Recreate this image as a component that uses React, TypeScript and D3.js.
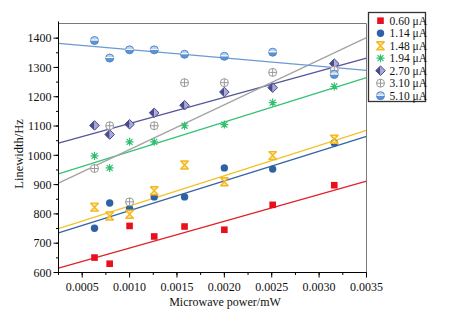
import React from "react";
import * as d3 from "d3";

const xValues = [0.00063, 0.00079, 0.001, 0.00126, 0.00158, 0.002, 0.00251, 0.00316];
const seriesNames = ["0.60 μA", "1.14 μA", "1.48 μA", "1.94 μA", "2.70 μA", "3.10 μA", "5.10 μA"];
const s060 = [651, 630, 759, 723, 757, 746, 831, 898];
const s114 = [751, 837, 818, 858, 858, 957, 953, 1042];
const s148 = [823, 793, 799, 879, 967, 910, 999, 1055];
const s194 = [998, 957, 1046, 1046, 1101, 1105, 1180, 1235];
const s270 = [1102, 1071, 1106, 1145, 1171, 1216, 1231, 1313];
const s310 = [955, 1101, 841, 1101, 1248, 1248, 1283, 1290];
const s510 = [1392, 1332, 1360, 1360, 1345, 1338, 1352, 1276];
// fitted line values at x = 0.00025 and x = 0.0035
const fitStart = [615, 735, 750, 937, 1042, 905, 1382];
const fitEnd = [912, 1065, 1085, 1265, 1332, 1402, 1290];
const xTicks = [0.0005, 0.001, 0.0015, 0.002, 0.0025, 0.003, 0.0035];
const yTicks = [600, 700, 800, 900, 1000, 1100, 1200, 1300, 1400];

const allSeries = [s060, s114, s148, s194, s270, s310, s510];
const lineColors = ["#e3202b", "#3464a6", "#f2c22a", "#35c274", "#55559a", "#a3a3a3", "#6b9ad2"];
const kinds = ["square", "circle", "hourglass", "asterisk", "diamond", "pluscircle", "halfcircle"];

function Marker({ kind, x, y }: { kind: string; x: number; y: number }) {
  const t = `translate(${x},${y})`;
  switch (kind) {
    case "square":
      return <rect x={x - 3.3} y={y - 3.3} width={6.6} height={6.6} fill="#e8101c" />;
    case "circle":
      return <circle cx={x} cy={y} r={3.7} fill="#2e63a3" />;
    case "hourglass":
      return (
        <g transform={t}>
          <path d="M-4,-4 L4,-4 L0,0 Z M-4,4 L4,4 L0,0 Z" fill="#fbe3a0" />
          <path d="M-4.2,-4 L4.2,-4 M-4.2,4 L4.2,4 M-4,-4 L4,4 M4,-4 L-4,4" stroke="#f2b81c" strokeWidth={1.4} fill="none" />
        </g>
      );
    case "asterisk":
      return (
        <g transform={t} stroke="#32c070" strokeWidth={1.2}>
          <path d="M-4,0 L4,0 M0,-4 L0,4 M-3,-3 L3,3 M3,-3 L-3,3" />
        </g>
      );
    case "diamond":
      return (
        <g transform={t}>
          <path d="M0,-4.8 L-4.8,0 L0,4.8 Z" fill="#4a4a8e" />
          <path d="M0,-4.8 L4.8,0 L0,4.8 Z" fill="#a9a8d6" />
          <path d="M0,-4.8 L4.8,0 L0,4.8 L-4.8,0 Z" fill="none" stroke="#4a4a8e" strokeWidth={1} />
        </g>
      );
    case "pluscircle":
      return (
        <g transform={t} stroke="#9a9a9a" strokeWidth={1} fill="#fff">
          <circle r={4} />
          <path d="M-4,0 L4,0 M0,-4 L0,4" />
        </g>
      );
    case "halfcircle":
      return (
        <g transform={t}>
          <path d="M-4,0 A4,4 0 0 1 4,0 Z" fill="#b9d2f0" />
          <path d="M-4,0 A4,4 0 0 0 4,0 Z" fill="#5c93d4" />
          <circle r={4} fill="none" stroke="#4f86c8" strokeWidth={1} />
          <path d="M-4,-0.5 L4,-0.5" stroke="#fff" strokeWidth={1} />
        </g>
      );
  }
  return null;
}

export default function App() {
  const W = 451, H = 331;
  const left = 58.5, right = 366.5, top = 23.5, bottom = 272.5;
  const x = d3.scaleLinear().domain([0.00025, 0.0035]).range([left, right]);
  const y = d3.scaleLinear().domain([600, 1450]).range([bottom, top]);
  const line = d3.line<[number, number]>().x((d) => x(d[0])).y((d) => y(d[1]));
  const [x0, x1] = x.domain();
  const xMinor = d3.range(0.00025, 0.0035 + 1e-9, 0.00025);
  const yMinor = d3.range(600, 1450, 50);
  const fmtX = (v: number) => v.toFixed(4);
  const font = "'Liberation Serif', 'Times New Roman', serif";

  return (
    <svg width={W} height={H} style={{ position: "absolute", left: 0, top: 0, background: "#fff" }} fontFamily={font}>
      <defs>
        <clipPath id="plot">
          <rect x={left} y={top} width={right - left} height={bottom - top} />
        </clipPath>
      </defs>
      {/* frame top & right */}
      <line x1={left} x2={right} y1={top} y2={top} stroke="#7a7a7a" strokeWidth={1} />
      <line x1={right} x2={right} y1={top} y2={bottom} stroke="#7a7a7a" strokeWidth={1} />
      {/* fit lines */}
      <g clipPath="url(#plot)">
        {allSeries.map((_, i) => (
          <path key={i} d={line([[x0, fitStart[i]], [x1, fitEnd[i]]])!} stroke={lineColors[i]} strokeWidth={1.3} fill="none" />
        ))}
      </g>
      {/* markers */}
      {allSeries.map((s, i) => (
        <g key={i}>
          {s.map((v, j) => (
            <Marker key={j} kind={kinds[i]} x={x(xValues[j])} y={y(v)} />
          ))}
        </g>
      ))}
      {/* axes */}
      <line x1={left} x2={left} y1={top - 2} y2={bottom} stroke="#000" strokeWidth={1} />
      <line x1={left} x2={right} y1={bottom} y2={bottom} stroke="#000" strokeWidth={1} />
      {yMinor.map((v) => (
        <line key={v} x1={left} x2={left - 2.5} y1={y(v)} y2={y(v)} stroke="#000" />
      ))}
      {yTicks.map((v) => (
        <g key={v}>
          <line x1={left} x2={left - 5} y1={y(v)} y2={y(v)} stroke="#000" />
          <text x={left - 7} y={y(v)} dy="0.35em" textAnchor="end" fontSize={12} fill="#111">{v}</text>
        </g>
      ))}
      {xMinor.map((v, i) => (
        <line key={i} x1={x(v)} x2={x(v)} y1={bottom} y2={bottom + 2.5} stroke="#000" />
      ))}
      {xTicks.map((v) => (
        <g key={v}>
          <line x1={x(v)} x2={x(v)} y1={bottom} y2={bottom + 5} stroke="#000" />
          <text x={x(v)} y={bottom + 18} textAnchor="middle" fontSize={12} fill="#111">{fmtX(v)}</text>
        </g>
      ))}
      <text x={225} y={306} textAnchor="middle" fontSize={12} fill="#111">Microwave power/mW</text>
      <text transform={`translate(23,${(top + bottom) / 2 + 6}) rotate(-90)`} textAnchor="middle" fontSize={12.5} fill="#111">Linewidth/Hz</text>
      {/* legend */}
      <rect x={368.5} y={12.5} width={57} height={89} fill="#fff" stroke="#333" strokeWidth={1.3} />
      {seriesNames.map((n, i) => {
        const ly = 20.7 + i * 12.5;
        return (
          <g key={n}>
            <Marker kind={kinds[i]} x={380.5} y={ly} />
            <text x={389.5} y={ly} dy="0.35em" fontSize={11.5} fill="#111">{n}</text>
          </g>
        );
      })}
    </svg>
  );
}
